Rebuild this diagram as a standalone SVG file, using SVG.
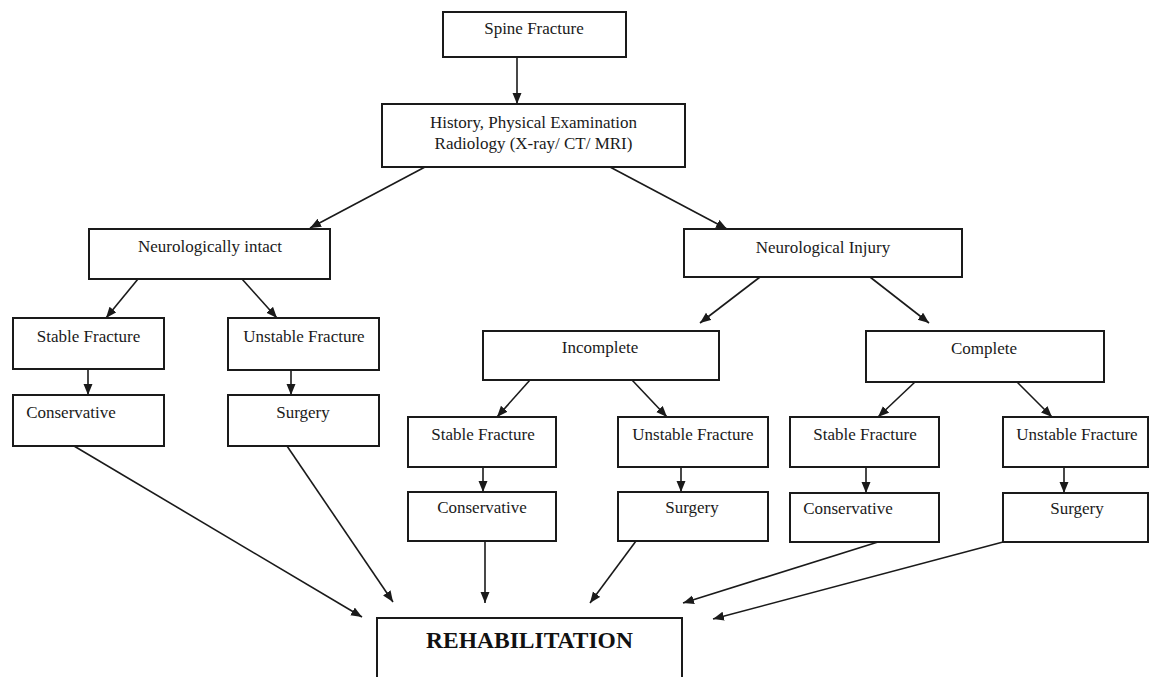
<svg xmlns="http://www.w3.org/2000/svg" width="1151" height="677" viewBox="0 0 1151 677">
<style>
.box{fill:#fff;stroke:#1a1a1a;stroke-width:2}
.t{font-family:"Liberation Serif","Times New Roman",serif;font-size:17px;fill:#1a1a1a;text-anchor:middle}
.tb{font-family:"Liberation Serif","Times New Roman",serif;font-size:23.5px;font-weight:bold;fill:#111;text-anchor:middle}
.c{stroke:#1a1a1a;stroke-width:1.6;fill:none;marker-end:url(#ah)}
</style>
<defs>
<marker id="ah" markerUnits="userSpaceOnUse" markerWidth="12" markerHeight="10" refX="11" refY="4.5" orient="auto">
<path d="M0,0 L11,4.5 L0,9 z" fill="#1a1a1a"/>
</marker>
</defs>
<rect width="1151" height="677" fill="#fff"/>
<g id="connectors">
<line class="c" x1="517" y1="57" x2="517" y2="104"/>
<line class="c" x1="425" y1="167" x2="310" y2="228"/>
<line class="c" x1="610" y1="167" x2="727" y2="229"/>
<line class="c" x1="138" y1="279" x2="106" y2="318"/>
<line class="c" x1="242" y1="279" x2="277" y2="318"/>
<line class="c" x1="88" y1="369" x2="88" y2="395"/>
<line class="c" x1="291" y1="370" x2="291" y2="395"/>
<line class="c" x1="760" y1="277" x2="700" y2="323"/>
<line class="c" x1="870" y1="277" x2="929" y2="323"/>
<line class="c" x1="530" y1="380" x2="497" y2="417"/>
<line class="c" x1="632" y1="380" x2="667" y2="417"/>
<line class="c" x1="915" y1="382" x2="878" y2="417"/>
<line class="c" x1="1017" y1="382" x2="1052" y2="417"/>
<line class="c" x1="483" y1="467" x2="483" y2="492"/>
<line class="c" x1="681" y1="467" x2="681" y2="492"/>
<line class="c" x1="866" y1="467" x2="866" y2="493"/>
<line class="c" x1="1064" y1="467" x2="1064" y2="493"/>
<line class="c" x1="74" y1="446" x2="362" y2="617"/>
<line class="c" x1="287" y1="446" x2="393" y2="602"/>
<line class="c" x1="485" y1="541" x2="485" y2="603"/>
<line class="c" x1="636" y1="541" x2="590" y2="603"/>
<line class="c" x1="878" y1="542" x2="683" y2="603"/>
<line class="c" x1="1003" y1="542" x2="713" y2="619"/>
</g>
<g id="spine"><rect class="box" x="443" y="12" width="183" height="45"/><text class="t" x="534" y="34">Spine Fracture</text></g>
<g id="history"><rect class="box" x="382" y="104" width="303" height="63"/><text class="t" x="533.5" y="128">History, Physical Examination</text><text class="t" x="533.5" y="149">Radiology (X-ray/ CT/ MRI)</text></g>
<g id="intact"><rect class="box" x="89" y="229" width="241" height="50"/><text class="t" x="210" y="252">Neurologically intact</text></g>
<g id="injury"><rect class="box" x="684" y="229" width="278" height="48"/><text class="t" x="823" y="253">Neurological Injury</text></g>
<g id="stable1"><rect class="box" x="13" y="318" width="151" height="51"/><text class="t" x="88.5" y="342">Stable Fracture</text></g>
<g id="unstable1"><rect class="box" x="228" y="318" width="151" height="52"/><text class="t" x="304" y="342">Unstable Fracture</text></g>
<g id="cons1"><rect class="box" x="13" y="395" width="151" height="51"/><text class="t" x="71" y="418">Conservative</text></g>
<g id="surg1"><rect class="box" x="228" y="395" width="151" height="51"/><text class="t" x="303" y="418">Surgery</text></g>
<g id="incomplete"><rect class="box" x="483" y="331" width="236" height="49"/><text class="t" x="600" y="353">Incomplete</text></g>
<g id="complete"><rect class="box" x="866" y="331" width="238" height="51"/><text class="t" x="984" y="354">Complete</text></g>
<g id="stable2"><rect class="box" x="408" y="417" width="148" height="50"/><text class="t" x="483" y="440">Stable Fracture</text></g>
<g id="unstable2"><rect class="box" x="618" y="417" width="150" height="50"/><text class="t" x="693" y="440">Unstable Fracture</text></g>
<g id="stable3"><rect class="box" x="790" y="417" width="149" height="50"/><text class="t" x="865" y="440">Stable Fracture</text></g>
<g id="unstable3"><rect class="box" x="1003" y="417" width="145" height="50"/><text class="t" x="1077" y="440">Unstable Fracture</text></g>
<g id="cons2"><rect class="box" x="408" y="492" width="148" height="49"/><text class="t" x="482" y="513">Conservative</text></g>
<g id="surg2"><rect class="box" x="618" y="492" width="150" height="49"/><text class="t" x="692" y="513">Surgery</text></g>
<g id="cons3"><rect class="box" x="790" y="493" width="149" height="49"/><text class="t" x="848" y="514">Conservative</text></g>
<g id="surg3"><rect class="box" x="1003" y="493" width="145" height="49"/><text class="t" x="1077" y="514">Surgery</text></g>
<g id="rehab"><rect class="box" x="377" y="618" width="305" height="80"/><text class="tb" x="529.5" y="648">REHABILITATION</text></g>
</svg>
